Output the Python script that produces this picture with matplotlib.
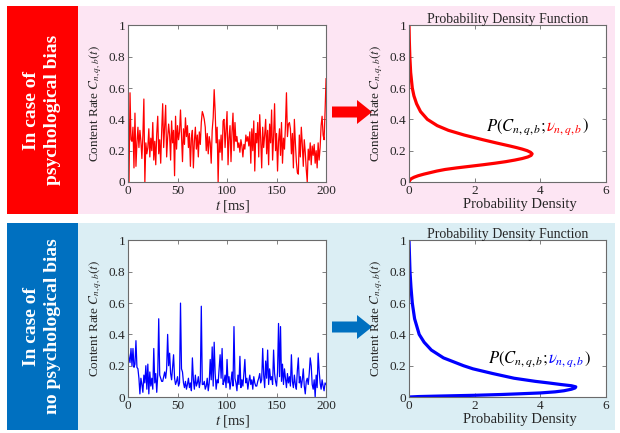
import matplotlib
matplotlib.use("Agg")
import matplotlib.pyplot as plt
import matplotlib.patches as mpatches
from matplotlib.transforms import offset_copy

# フォント設定 (Times系)
plt.rcParams["font.family"] = ["Liberation Serif", "DejaVu Serif"]
plt.rcParams["mathtext.fontset"] = "stix"

# 時系列データ (t = 0..200 ms)
t_ms = list(range(201))

rate_bias = [
    0.40, 0.00, 0.57, 0.27, 0.26, 0.35, 0.09, 0.44, 0.10, 0.25,
    0.35, 0.22, 0.33, 0.26, 0.15, 0.30, 0.53, 0.00, 0.25, 0.18,
    0.22, 0.34, 0.16, 0.28, 0.20, 0.38, 0.14, 0.26, 0.11, 0.31,
    0.42, 0.18, 0.27, 0.12, 0.33, 0.50, 0.22, 0.35, 0.49, 0.16,
    0.28, 0.37, 0.30, 0.14, 0.39, 0.25, 0.33, 0.04, 0.42, 0.21,
    0.36, 0.27, 0.32, 0.46, 0.30, 0.13, 0.34, 0.24, 0.41, 0.29,
    0.36, 0.22, 0.31, 0.10, 0.28, 0.33, 0.09, 0.26, 0.35, 0.21,
    0.30, 0.16, 0.32, 0.24, 0.38, 0.45, 0.43, 0.40, 0.35, 0.20,
    0.31, 0.18, 0.29, 0.25, 0.12, 0.33, 0.41, 0.59, 0.45, 0.25,
    0.35, 0.00, 0.27, 0.19, 0.30, 0.14, 0.39, 0.40, 0.22, 0.34,
    0.45, 0.11, 0.28, 0.36, 0.13, 0.32, 0.44, 0.20, 0.38, 0.26,
    0.29, 0.22, 0.25, 0.19, 0.27, 0.23, 0.16, 0.24, 0.21, 0.30,
    0.26, 0.29, 0.23, 0.32, 0.12, 0.34, 0.20, 0.39, 0.07, 0.31,
    0.25, 0.38, 0.16, 0.43, 0.27, 0.09, 0.35, 0.22, 0.30, 0.40,
    0.18, 0.33, 0.11, 0.37, 0.25, 0.46, 0.14, 0.29, 0.50, 0.20,
    0.31, 0.07, 0.26, 0.34, 0.17, 0.38, 0.12, 0.28, 0.21, 0.36,
    0.57, 0.29, 0.37, 0.38, 0.34, 0.18, 0.31, 0.09, 0.40, 0.25,
    0.13, 0.06, 0.05, 0.30, 0.16, 0.35, 0.24, 0.10, 0.27, 0.19,
    0.08, 0.00, 0.21, 0.14, 0.25, 0.11, 0.23, 0.17, 0.24, 0.12,
    0.20, 0.09, 0.25, 0.14, 0.22, 0.36, 0.42, 0.30, 0.27, 0.45,
    0.66,
]

rate_nobias = [
    0.30, 0.25, 0.22, 0.31, 0.20, 0.31, 0.19, 0.21, 0.36, 0.19,
    0.18, 0.12, 0.02, 0.12, 0.08, 0.03, 0.14, 0.09, 0.20, 0.05,
    0.21, 0.02, 0.16, 0.07, 0.12, 0.05, 0.31, 0.09, 0.15, 0.03,
    0.14, 0.50, 0.14, 0.12, 0.10, 0.10, 0.13, 0.16, 0.12, 0.18,
    0.40, 0.20, 0.28, 0.15, 0.11, 0.19, 0.27, 0.12, 0.08, 0.10,
    0.13, 0.07, 0.09, 0.60, 0.18, 0.16, 0.09, 0.06, 0.10, 0.05,
    0.08, 0.12, 0.06, 0.09, 0.04, 0.25, 0.11, 0.05, 0.14, 0.07,
    0.09, 0.13, 0.06, 0.10, 0.58, 0.08, 0.08, 0.10, 0.05, 0.07,
    0.12, 0.04, 0.09, 0.24, 0.11, 0.32, 0.07, 0.35, 0.15, 0.05,
    0.11, 0.09, 0.18, 0.27, 0.12, 0.31, 0.08, 0.10, 0.14, 0.06,
    0.24, 0.09, 0.13, 0.05, 0.10, 0.16, 0.07, 0.45, 0.12, 0.09,
    0.04, 0.14, 0.08, 0.26, 0.06, 0.11, 0.07, 0.15, 0.24, 0.09,
    0.12, 0.05, 0.10, 0.14, 0.08, 0.11, 0.05, 0.13, 0.09, 0.07,
    0.07, 0.10, 0.12, 0.15, 0.09, 0.11, 0.31, 0.14, 0.06, 0.23,
    0.12, 0.30, 0.08, 0.18, 0.11, 0.13, 0.08, 0.30, 0.15, 0.10,
    0.07, 0.16, 0.47, 0.13, 0.45, 0.10, 0.21, 0.08, 0.18, 0.12,
    0.06, 0.15, 0.09, 0.13, 0.07, 0.27, 0.10, 0.06, 0.14, 0.08,
    0.05, 0.17, 0.25, 0.09, 0.13, 0.06, 0.11, 0.18, 0.07, 0.02,
    0.10, 0.12, 0.08, 0.15, 0.25, 0.20, 0.08, 0.05, 0.11, 0.00,
    0.14, 0.06, 0.28, 0.17, 0.09, 0.05, 0.11, 0.07, 0.04, 0.09,
    0.08,
]

# 確率密度関数 (縦軸: 視聴率, 横軸: 密度)
pdf_bias_c = [0.0, 0.01, 0.02, 0.03, 0.04, 0.05, 0.06, 0.07, 0.08, 0.09, 0.10, 0.11,
              0.12, 0.13, 0.14, 0.15, 0.16, 0.17, 0.18, 0.19, 0.20, 0.21, 0.22, 0.23,
              0.25, 0.27, 0.30, 0.33, 0.36, 0.40, 0.45, 0.50, 0.55, 0.60, 0.70,
              0.80, 0.90, 1.0]
pdf_bias_d = [0.0, 0.02, 0.06, 0.15, 0.28, 0.45, 0.65, 0.85, 1.10, 1.45, 1.85, 2.25,
              2.62, 2.95, 3.22, 3.45, 3.62, 3.72, 3.75, 3.70, 3.60, 3.45, 3.27, 3.07,
              2.65, 2.25, 1.68, 1.20, 0.86, 0.56, 0.35, 0.23, 0.15, 0.10, 0.05,
              0.025, 0.01, 0.0]

pdf_nobias_c = [0.0, 0.003, 0.006, 0.011, 0.016, 0.02, 0.026, 0.033, 0.04, 0.05, 0.058,
                0.065, 0.072, 0.08, 0.09, 0.10, 0.12, 0.15, 0.18, 0.20, 0.25, 0.30,
                0.35, 0.40, 0.50, 0.60, 0.70, 0.80, 0.90, 1.0]
pdf_nobias_d = [0.0, 0.30, 0.90, 2.00, 2.80, 3.30, 4.00, 4.45, 4.72, 4.95, 5.06,
                5.08, 4.95, 4.62, 4.25, 3.85, 3.20, 2.55, 1.95, 1.66, 1.05, 0.68,
                0.46, 0.31, 0.17, 0.10, 0.06, 0.03, 0.015, 0.0]

red = "#ff0000"
blue = "#0000ff"
box_red = "#ff0000"
box_blue = "#0070c0"
bg_pink = "#fde5f3"
bg_blue = "#dbeef4"
W, H = 620, 433

fig = plt.figure(figsize=(6.2, 4.33), dpi=100)

# 背景 (ピクセル座標で描く)
bg = fig.add_axes([0, 0, 1, 1], zorder=-1)
bg.set_xlim(0, W)
bg.set_ylim(H, 0)
bg.axis("off")

rows = [
    (6, 214, box_red, bg_pink, "In case of\npsychological bias", 112),
    (223, 430, box_blue, bg_blue, "In case of\nno psychological bias", 327),
]
for top, bottom, bcol, pcol, label, ay in rows:
    bg.add_patch(mpatches.Rectangle((78, top), 537, bottom - top, color=pcol, lw=0))
    bg.add_patch(mpatches.Rectangle((7, top), 71, bottom - top, color=bcol, lw=0))
    bg.text(42, (top + bottom) / 2, label, color="white", fontsize=14, fontweight="bold",
            rotation=90, ha="center", va="center", linespacing=1.35)
    arrow = mpatches.Polygon(
        [(332, ay - 5.5), (357, ay - 5.5), (357, ay - 12), (372, ay),
         (357, ay + 12), (357, ay + 5.5), (332, ay + 5.5)],
        closed=True, color=bcol, lw=0)
    bg.add_patch(arrow)


def style_axes(ax):
    """MATLAB風の枠と目盛り"""
    for s in ax.spines.values():
        s.set_color("#6b6b6b")
        s.set_linewidth(0.8)
    ax.tick_params(direction="in", top=True, right=True, length=3, width=0.6,
                   colors="#6b6b6b", labelcolor="#262626", labelsize=9.5, pad=2)
    ax.set_ylim(0, 1)
    ax.set_yticks([0, 0.2, 0.4, 0.6, 0.8, 1])
    ax.set_yticklabels(["0", "0.2", "0.4", "0.6", "0.8", "1"])
    ax.set_ylabel(r"Content Rate $C_{n,q,b}(t)$", fontsize=9.5, labelpad=3, color="#262626")


def colored_label(ax, x, y, color):
    """P(C;v) の v 部分だけ色を変える"""
    r = fig.canvas.get_renderer()
    parts = [(r"$P(C_{n,q,b};$", "black"), (r"$\nu_{n,q,b}$", color), (r"$)$", "black")]
    dx = 0
    for s, c in parts:
        tr = offset_copy(ax.transData, fig=fig, x=dx, y=0, units="dots")
        txt = ax.text(x, y, s, color=c, fontsize=12, transform=tr, va="baseline", ha="left")
        dx += txt.get_window_extent(renderer=r).width


ts_specs = [(0.5797, rate_bias, red), (0.0831, rate_nobias, blue)]
pdf_specs = [(pdf_bias_c, pdf_bias_d, red, 2.35, 0.33),
             (pdf_nobias_c, pdf_nobias_d, blue, 2.4, 0.22)]

for i in range(2):
    y0, series, col = ts_specs[i]
    ax = fig.add_axes([0.2065, y0, 0.3194, 0.3615])
    ax.plot(t_ms, series, color=col, lw=0.9)
    ax.set_xlim(0, 200)
    ax.set_xticks([0, 50, 100, 150, 200])
    style_axes(ax)
    ax.set_xlabel(r"$t$ [ms]", fontsize=10.5, labelpad=1, color="#262626")
    ax.xaxis.label.set_x(0.53)

    cs, ds, col2, lx, ly = pdf_specs[i]
    ax2 = fig.add_axes([0.6597, y0, 0.3177, 0.3615])
    ax2.plot(ds, cs, color=col2, lw=2.3, solid_capstyle="round")
    ax2.set_xlim(0, 6)
    ax2.set_xticks([0, 2, 4, 6])
    style_axes(ax2)
    ax2.set_xlabel("Probability Density", fontsize=10.5, labelpad=1, color="#262626")
    ax2.xaxis.label.set_x(0.565)
    ax2.set_title("Probability Density Function", fontsize=10, pad=2, color="#262626")
    colored_label(ax2, lx, ly, col2)

fig.savefig("out.png", dpi=100)
